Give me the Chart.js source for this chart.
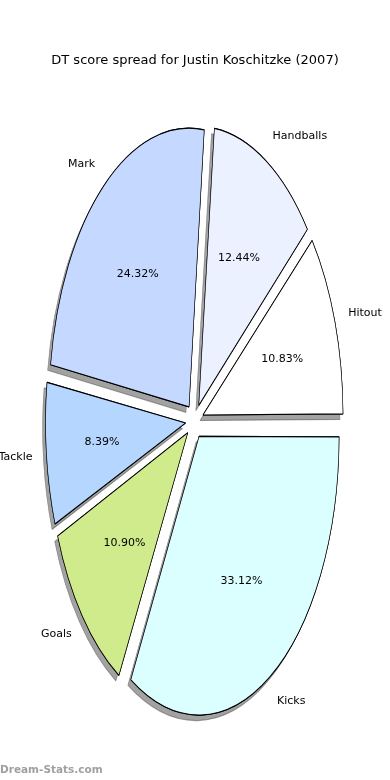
<!DOCTYPE html>
<html>
<head>
<meta charset="utf-8">
<script src="https://cdn.jsdelivr.net/npm/chart.js@4.4.0/dist/chart.umd.min.js"></script>
<style>
  html, body { margin: 0; padding: 0; background: #fff; }
</style>
</head>
<body>
<canvas id="pieChart" width="390" height="780"></canvas>
<script>
// slices listed clockwise from 3 o'clock
const labels = ['Kicks', 'Goals', 'Tackle', 'Mark', 'Handballs', 'Hitout'];
const shares = [33.12, 10.90, 8.39, 24.32, 12.44, 10.83];
const colours = ['#dbffff', '#d0eb8c', '#b4d6ff', '#c5d8ff', '#ebf1ff', '#ffffff'];

const CX = 194.5, CY = 421, R = 140, STRETCH = 1.99, EXPLODE = 9;

// pie is stretched into an ellipse, with a drop shadow like the original
const ellipsePie = {
    id: 'ellipsePie',
    afterDatasetUpdate(chart, args) {
        args.meta.data.forEach(arc => {
            const fix = 1 - Math.sin(Math.min(Math.PI, arc.circumference));
            arc.outerRadius = R - EXPLODE * fix;
        });
    },
    beforeDatasetDraw(chart, args) {
        const ctx = chart.ctx;
        const arcs = args.meta.data;
        ctx.save();
        ctx.translate(CX, CY);
        ctx.scale(1, STRETCH);
        ctx.translate(-arcs[0].x, -arcs[0].y);
        ctx.save();
        ctx.shadowColor = 'rgba(70,70,70,0.5)';
        ctx.shadowOffsetX = -3;
        ctx.shadowOffsetY = 5.5;
        arcs.forEach(a => a.draw(ctx));
        ctx.restore();
    },
    afterDatasetDraw(chart, args) {
        const ctx = chart.ctx;
        ctx.restore();
        ctx.save();
        ctx.font = '11px "DejaVu Sans"';
        ctx.fillStyle = '#000';
        ctx.textBaseline = 'middle';
        args.meta.data.forEach((a, i) => {
            const mid = (a.startAngle + a.endAngle) / 2;
            const c = Math.cos(mid), s = Math.sin(mid);
            const ox = c * EXPLODE, oy = s * EXPLODE;
            const lx = CX + ox + c * R * 1.1, ly = CY + (oy + s * R * 1.1) * STRETCH;
            const px = CX + ox + c * R * 0.6, py = CY + (oy + s * R * 0.6) * STRETCH;
            ctx.textAlign = c > 0 ? 'left' : 'right';
            ctx.fillText(labels[i], lx, ly);
            ctx.textAlign = 'center';
            ctx.fillText(shares[i].toFixed(2) + '%', px, py);
        });
        ctx.restore();
    },
    afterDraw(chart) {
        const ctx = chart.ctx;
        ctx.save();
        ctx.font = 'bold 10.5px "DejaVu Sans"';
        ctx.fillStyle = '#a0a0a0';
        ctx.textAlign = 'left';
        ctx.textBaseline = 'middle';
        ctx.fillText('Dream-Stats.com', 0, 770);
        ctx.restore();
    }
};

new Chart(document.querySelector('#pieChart'), {
    type: 'pie',
    data: {
        labels: labels,
        datasets: [{
            data: shares,
            backgroundColor: colours,
            borderColor: '#000',
            borderWidth: 0.6,
            offset: EXPLODE * 4,
            radius: R,
            clip: false
        }]
    },
    options: {
        responsive: false,
        animation: false,
        rotation: 90,
        events: [],
        plugins: {
            legend: { display: false },
            tooltip: { enabled: false },
            title: {
                display: true,
                text: 'DT score spread for Justin Koschitzke (2007)',
                color: '#000',
                font: { family: 'DejaVu Sans', size: 13, weight: 'normal' },
                padding: { top: 53, bottom: 0 }
            }
        }
    },
    plugins: [ellipsePie]
});
</script>
</body>
</html>
